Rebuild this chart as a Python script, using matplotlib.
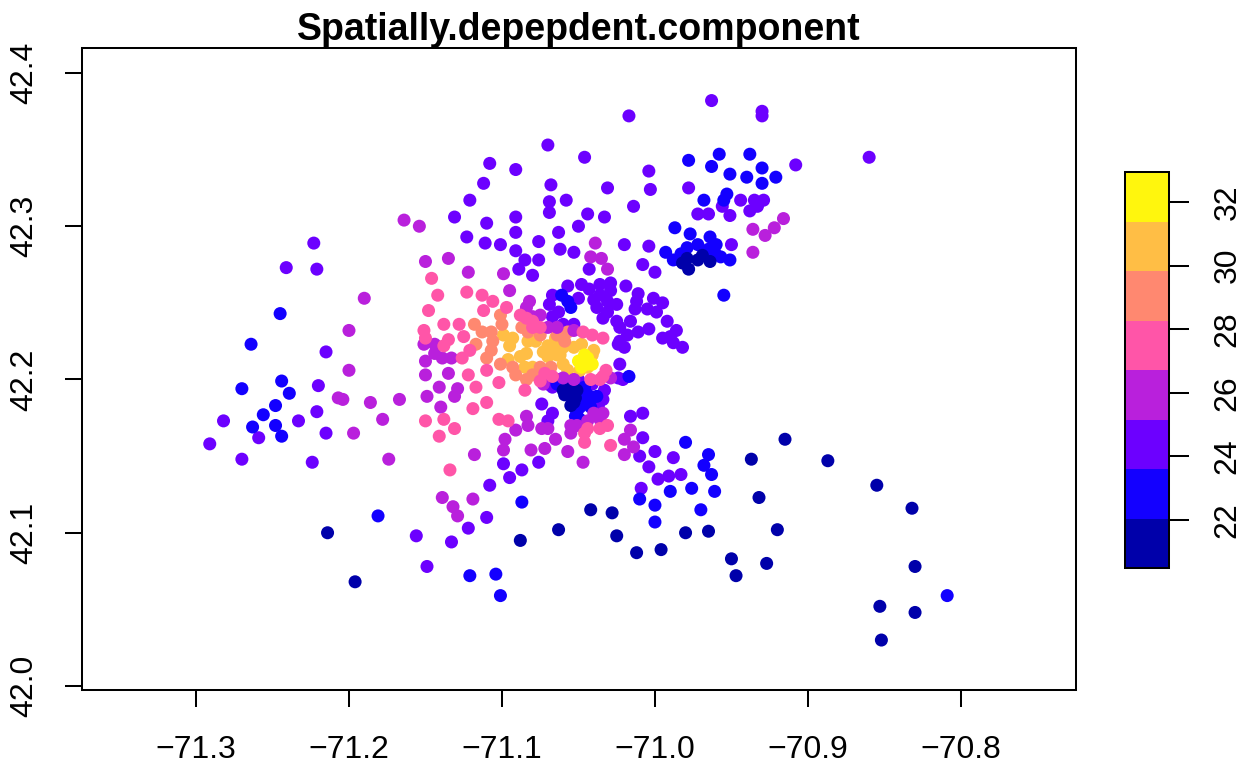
import matplotlib
matplotlib.use("Agg")
import matplotlib.pyplot as plt
from matplotlib.cm import ScalarMappable
from matplotlib.colors import BoundaryNorm, ListedColormap
import numpy as np

plt.rcParams['font.family'] = ['Liberation Sans', 'DejaVu Sans']

# points per colour level (longitude / latitude)
lon_navy = [-71.042,-71.028,-71.063,-71.088,-71.025,-71.012,-70.996,-70.980,-70.965,-70.937,-70.915,-70.887,-70.855,-70.832,-70.932,-70.920,-70.950,-70.947,-70.927,-70.830,-70.853,-70.830,-70.852,-71.214,-71.196,
            -70.978,-70.979,-70.972,-70.969,-70.964,-70.982,
            -71.054,-71.059,-71.052,-71.055,-71.051,-71.057,-71.053,-71.060]
lat_navy = [42.115,42.113,42.102,42.095,42.098,42.087,42.089,42.100,42.101,42.148,42.161,42.147,42.131,42.116,42.123,42.102,42.083,42.072,42.080,42.078,42.052,42.048,42.030,42.100,42.068,
            42.272,42.279,42.278,42.281,42.277,42.276,
            42.192,42.190,42.188,42.183,42.193,42.195,42.185,42.193]

lon_blue = [-70.978,-70.958,-70.963,-70.951,-70.938,-70.930,-70.940,-70.921,-70.930,-70.953,-70.955,-70.968,-70.987,-70.977,-70.964,-70.972,-70.960,-70.979,-70.993,-70.988,-70.983,-70.984,-70.965,-70.961,-70.957,-70.951,-70.955,
            -70.980,-70.965,-70.968,-70.963,-70.961,-70.976,-70.990,-71.010,-71.000,-71.000,-70.970,-71.087,-71.121,-71.104,-71.101,-70.809,-71.181,
            -71.245,-71.264,-71.244,-71.270,-71.239,-71.248,-71.256,-71.263,-71.248,-71.244,
            -71.061,-71.057,-71.055,-71.017,-71.064,-71.048,-71.044,-71.044,-71.049,-71.051,-71.052,-71.041,-71.057,-71.048,-71.038,-71.046,-71.042,-71.049]
lat_blue = [42.343,42.347,42.339,42.334,42.347,42.338,42.332,42.332,42.328,42.321,42.317,42.317,42.299,42.295,42.293,42.288,42.288,42.286,42.283,42.278,42.282,42.278,42.285,42.283,42.280,42.278,42.255,
            42.159,42.151,42.144,42.138,42.127,42.129,42.127,42.122,42.118,42.107,42.115,42.120,42.072,42.073,42.059,42.059,42.111,
            42.243,42.223,42.199,42.194,42.191,42.183,42.177,42.169,42.170,42.163,
            42.255,42.251,42.247,42.202,42.197,42.193,42.190,42.185,42.182,42.179,42.176,42.188,42.197,42.185,42.189,42.195,42.182,42.174]

lon_violet = [-70.963,-71.017,-70.930,-70.930,-70.860,-70.908,-71.004,-71.031,-71.003,-70.978,-71.014,-71.033,-70.944,-70.935,-70.929,-70.933,-70.938,-70.956,-70.972,-70.965,-70.951,-70.950,-71.020,-71.004,-71.008,-71.000,
              -71.070,-71.046,-71.108,-71.091,-71.112,-71.068,-71.121,-71.069,-71.058,-71.069,-71.131,-71.091,-71.110,-71.044,-71.050,-71.091,-71.063,-71.123,-71.111,-71.101,-71.076,-71.062,-71.053,-71.091,-71.085,-71.076,-71.089,-71.080,-71.043,
              -71.223,-71.241,-71.221,-71.215,-71.220,-71.221,-71.282,-71.291,-71.270,-71.259,-71.233,-71.215,-71.224,
              -71.074,-71.067,-71.070,-71.016,-71.008,-71.008,-71.000,-70.988,-71.010,-71.004,-70.991,-70.983,-70.998,-71.009,-71.099,-71.087,-71.076,-71.095,-71.108,-71.110,-71.122,-71.133,-71.156,-71.149,
              -71.057,-71.048,-71.043,-71.036,-71.029,-71.029,-71.019,-71.067,-71.050,-71.040,-71.036,-71.011,-71.012,-71.031,-71.001,-70.995,-71.069,-71.038,-71.025,-71.013,-71.005,-70.999,-71.063,-71.031,-71.067,-71.034,-70.992,-71.025,-71.016,-71.023,-71.053,-71.060,-71.004,-71.011,-71.018,-70.986,-70.995,-70.990,-70.988,-70.982,-71.023,-71.020,-71.024,-71.023,-71.024,-71.021,-71.067,-71.033,-71.034,-71.037,-71.041,-71.050,-71.062,-71.070]
lat_violet = [42.382,42.372,42.375,42.372,42.345,42.340,42.336,42.325,42.324,42.325,42.313,42.306,42.317,42.317,42.317,42.313,42.310,42.313,42.308,42.308,42.307,42.288,42.288,42.287,42.275,42.270,
              42.353,42.345,42.341,42.337,42.328,42.327,42.317,42.316,42.317,42.309,42.306,42.306,42.302,42.308,42.300,42.296,42.296,42.293,42.289,42.288,42.290,42.285,42.283,42.284,42.278,42.278,42.272,42.268,42.272,
              42.289,42.273,42.272,42.218,42.196,42.179,42.173,42.158,42.148,42.162,42.173,42.165,42.146,
              42.184,42.178,42.173,42.176,42.178,42.162,42.153,42.149,42.150,42.143,42.137,42.138,42.135,42.129,42.145,42.141,42.146,42.136,42.131,42.110,42.103,42.094,42.098,42.078,
              42.261,42.262,42.259,42.262,42.263,42.258,42.261,42.255,42.253,42.252,42.255,42.256,42.251,42.251,42.253,42.250,42.249,42.247,42.249,42.246,42.246,42.244,42.244,42.244,42.241,42.240,42.238,42.238,42.238,42.234,42.236,42.236,42.233,42.231,42.229,42.232,42.227,42.228,42.224,42.221,42.225,42.221,42.223,42.210,42.201,42.200,42.195,42.193,42.187,42.183,42.197,42.200,42.200,42.197]

lon_magenta = [-70.936,-70.928,-70.922,-70.916,-70.936,-71.164,-71.154,-71.150,-71.135,-71.122,-71.099,-71.039,-71.042,-71.035,-71.031,-71.095,
               -71.190,-71.200,-71.200,-71.207,-71.204,-71.186,-71.167,-71.197,-71.178,-71.174,
               -71.151,-71.144,-71.144,-71.139,-71.133,-71.150,-71.150,-71.135,-71.141,-71.129,-71.131,-71.149,-71.140,
               -71.084,-71.083,-71.091,-71.074,-71.070,-71.098,-71.099,-71.081,-71.072,-71.065,-71.057,-71.047,-71.118,-71.055,-71.051,-71.055,-71.044,-71.034,-71.036,-71.040,-71.016,-71.020,-71.014,-71.020,-71.139,-71.119,-71.132,-71.129,
               -71.082,-71.084,-71.080,-71.064,-71.053,-71.070,-71.075,-71.073,-71.029,-71.060,-71.053]
lat_magenta = [42.298,42.294,42.299,42.305,42.283,42.304,42.300,42.277,42.279,42.270,42.269,42.289,42.280,42.279,42.272,42.258,
               42.253,42.232,42.206,42.188,42.187,42.185,42.187,42.165,42.174,42.148,
               42.223,42.223,42.217,42.214,42.214,42.212,42.203,42.204,42.195,42.194,42.189,42.189,42.182,
               42.176,42.170,42.167,42.168,42.168,42.161,42.154,42.154,42.155,42.161,42.153,42.146,42.151,42.170,42.170,42.165,42.173,42.178,42.174,42.178,42.167,42.161,42.156,42.151,42.123,42.122,42.117,42.111,
               42.251,42.247,42.241,42.234,42.232,42.234,42.242,42.197,42.201,42.201,42.200]

lon_pink = [-71.146,-71.142,-71.123,-71.113,-71.106,-71.148,-71.112,-71.097,-71.138,-71.128,-71.151,-71.125,-71.150,-71.135,-71.121,-71.126,-71.110,-71.122,-71.102,-71.117,-71.110,-71.119,-71.150,-71.138,-71.131,-71.141,-71.102,-71.096,-71.085,-71.029,-71.134,-71.046,-71.046,-71.044,-71.036,-71.031,-71.138,
            -71.088,-71.080,-71.075,-71.080,-71.084,-71.047,-71.041,-71.034,-71.032,-71.034,-71.036,-71.042,-71.075,-71.072,-71.067]
lat_pink = [42.266,42.255,42.257,42.255,42.251,42.245,42.245,42.247,42.236,42.236,42.232,42.228,42.227,42.226,42.219,42.214,42.206,42.203,42.198,42.195,42.185,42.181,42.173,42.174,42.168,42.163,42.174,42.173,42.193,42.157,42.141,42.159,42.165,42.168,42.168,42.170,42.222,
            42.242,42.238,42.234,42.234,42.240,42.231,42.229,42.227,42.206,42.202,42.200,42.200,42.199,42.204,42.202]

lon_salmon = [-71.101,-71.100,-71.118,-71.113,-71.107,-71.117,-71.106,-71.107,-71.110,-71.101,-71.093,-71.091,-71.084,-71.080,-71.075,-71.068,-71.087,-71.083,-71.064,-71.057,-71.075,-71.059]
lat_salmon = [42.242,42.236,42.236,42.231,42.231,42.223,42.225,42.219,42.214,42.210,42.208,42.203,42.200,42.203,42.208,42.208,42.234,42.231,42.229,42.231,42.229,42.225]

lon_orange = [-71.099,-71.093,-71.095,-71.083,-71.078,-71.070,-71.065,-71.060,-71.053,-71.048,-71.040,-71.084,-71.088,-71.070,-71.064,-71.060,-71.096,-71.085,-71.080,-71.041,-71.065,-71.057,-71.049,-71.044,-71.067,-71.062,-71.073]
lat_orange = [42.229,42.227,42.222,42.225,42.225,42.222,42.223,42.221,42.221,42.223,42.219,42.217,42.215,42.215,42.216,42.210,42.213,42.208,42.208,42.216,42.227,42.206,42.206,42.208,42.219,42.216,42.218]

lon_yellow = [-71.050,-71.044,-71.044,-71.048,-71.046,-71.041]
lat_yellow = [42.212,42.214,42.210,42.208,42.216,42.210]

# drawing order, bottom to top
level_values = [24.4, 22.8, 21.3, 30.6, 32.1, 29.0, 25.9, 27.5]
level_lons = [lon_violet, lon_blue, lon_navy, lon_orange, lon_yellow, lon_salmon, lon_magenta, lon_pink]
level_lats = [lat_violet, lat_blue, lat_navy, lat_orange, lat_yellow, lat_salmon, lat_magenta, lat_pink]

colors = ["#0000AA", "#1300FF", "#6C00FF", "#B920DC", "#FF55A8", "#FF8870", "#FFBE45", "#FFF60D"]
bounds = np.linspace(20.49, 32.94, 9)
cmap = ListedColormap(colors)
norm = BoundaryNorm(bounds, cmap.N)

x_ticks = [-71.3, -71.2, -71.1, -71.0, -70.9, -70.8]
x_labels = ["\u221271.3", "\u221271.2", "\u221271.1", "\u221271.0", "\u221270.9", "\u221270.8"]
y_ticks = [42.0, 42.1, 42.2, 42.3, 42.4]
y_labels = ["42.0", "42.1", "42.2", "42.3", "42.4"]
cb_ticks = [22, 24, 26, 28, 30, 32]

W, H = 1253, 769
fig = plt.figure(figsize=(W / 100, H / 100), dpi=100)
ax = fig.add_axes([82 / W, 1 - 690 / H, 994 / W, 642 / H])

for lon, lat, z in zip(level_lons, level_lats, level_values):
    ax.scatter(lon, lat, c=[z] * len(lon), cmap=cmap, norm=norm, s=88, linewidths=0, zorder=3)

ax.set_xlim(-71.3745, -70.7248)
ax.set_ylim(41.9974, 42.4163)
ax.set_xticks(x_ticks)
ax.set_xticklabels(x_labels, fontsize=23)
ax.set_yticks(y_ticks)
ax.set_yticklabels(y_labels, fontsize=23, rotation=90, va="center")
ax.tick_params(axis="both", length=12.5, width=1.45)
ax.tick_params(axis="x", pad=20)
ax.tick_params(axis="y", pad=18)
for spine in ax.spines.values():
    spine.set_linewidth(1.45)
ax.set_title("Spatially.depepdent.component", fontsize=27, fontweight="bold", pad=3)

cax = fig.add_axes([1125 / W, 1 - 568 / H, 44 / W, 396 / H])
cb = fig.colorbar(ScalarMappable(norm=norm, cmap=cmap), cax=cax, spacing="proportional", ticks=cb_ticks)
cb.minorticks_off()
cb.ax.set_yticklabels([str(t) for t in cb_ticks], fontsize=23, rotation=90, va="center")
cb.ax.tick_params(length=14.5, width=1.45, pad=17)
cb.outline.set_linewidth(1.45)

fig.savefig("out.png", dpi=100)
